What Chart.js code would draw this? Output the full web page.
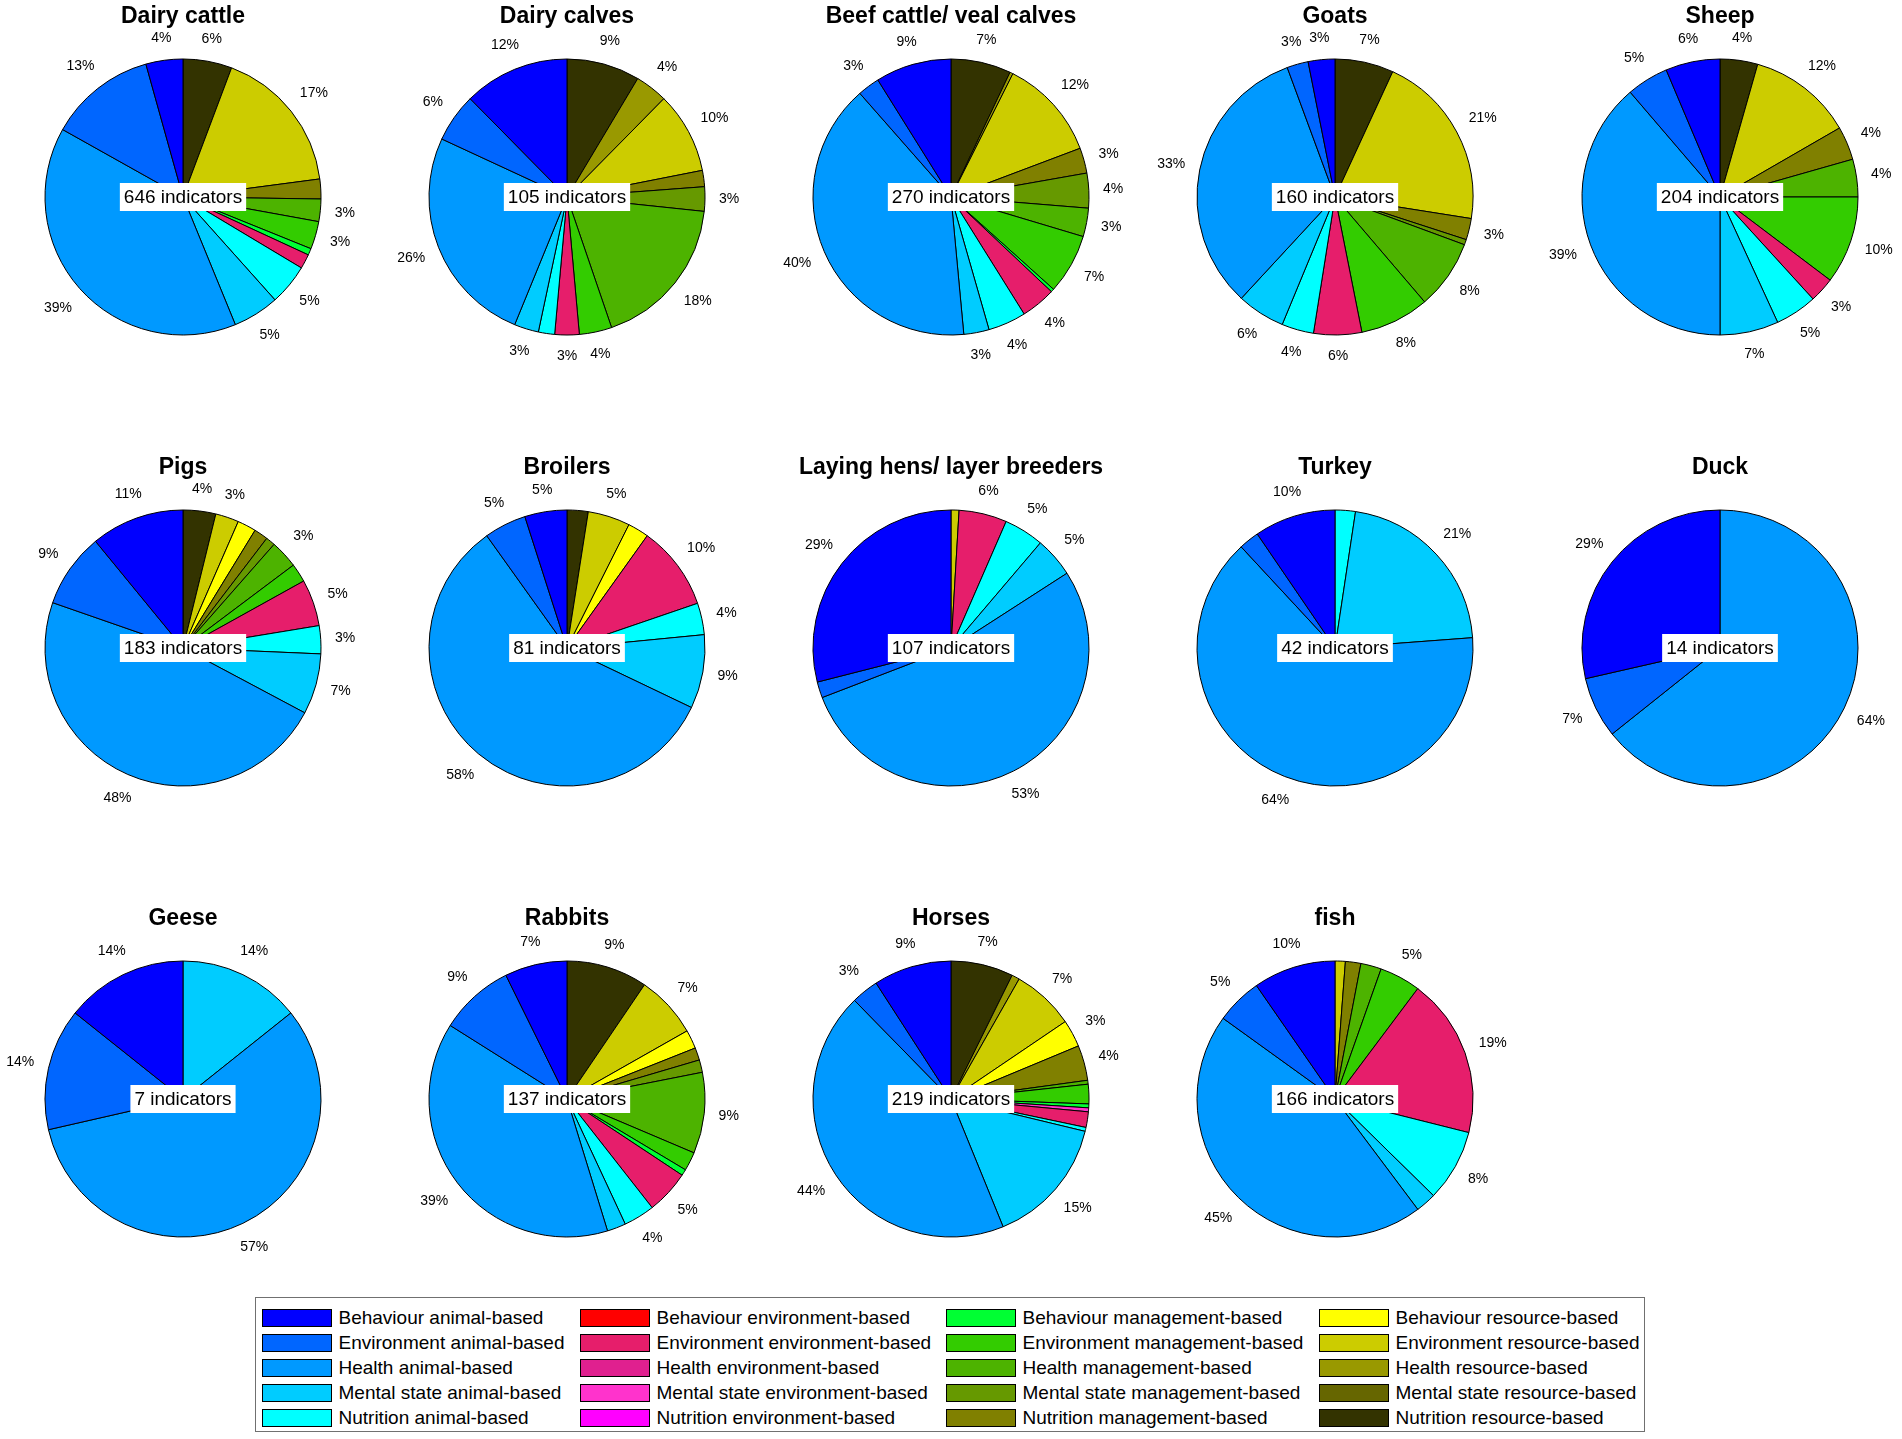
<!DOCTYPE html>
<html>
<head>
<meta charset="utf-8">
<script src="https://cdn.jsdelivr.net/npm/chart.js@4.4.1/dist/chart.umd.min.js"></script>
<style>
  body { margin: 0; background: #fff; width: 1902px; height: 1439px; position: relative; overflow: hidden;
         font-family: "Liberation Sans", Arial, sans-serif; }
  canvas { position: absolute; }
  #legend { position: absolute; left: 255px; top: 1297px; width: 1390px; height: 135px;
            border: 1.5px solid #707070; box-sizing: border-box; }
  .sw { position: absolute; width: 68px; height: 16px; border: 1px solid #000; }
  .lt { position: absolute; font-size: 19px; line-height: 19px; color: #000; white-space: nowrap; }
</style>
</head>
<body>
<div id="legend"></div>
<script>
// indicator categories, in the order the pies are stacked
const categories = [
    "Behaviour animal-based", "Environment animal-based", "Health animal-based", "Mental state animal-based", "Nutrition animal-based",
    "Behaviour environment-based", "Environment environment-based", "Health environment-based", "Mental state environment-based", "Nutrition environment-based",
    "Behaviour management-based", "Environment management-based", "Health management-based", "Mental state management-based", "Nutrition management-based",
    "Behaviour resource-based", "Environment resource-based", "Health resource-based", "Mental state resource-based", "Nutrition resource-based"
];
const colours = [
    "#0000ff", "#0066ff", "#0099ff", "#00ccff", "#00ffff",
    "#ff0000", "#e61e6b", "#e0208f", "#ff33cc", "#ff00ff",
    "#00ff33", "#33cc00", "#4db300", "#669900", "#808000",
    "#ffff00", "#cccc00", "#999900", "#666600", "#333300"
];

const titles = ["Dairy cattle", "Dairy calves", "Beef cattle/ veal calves", "Goats", "Sheep",
    "Pigs", "Broilers", "Laying hens/ layer breeders", "Turkey", "Duck",
    "Geese", "Rabbits", "Horses", "fish"];

// number of indicators per category
const dairyCattle = [28, 81, 254, 35, 31, 0, 11, 0, 0, 0, 5, 21, 17, 0, 15, 0, 111, 0, 0, 37];
const dairyCalves = [13, 6, 27, 3, 2, 0, 3, 0, 0, 0, 0, 4, 19, 3, 2, 0, 10, 4, 0, 9];
const beefCattle  = [24, 7, 108, 8, 12, 0, 11, 0, 0, 0, 1, 19, 9, 11, 8, 0, 32, 1, 0, 19];
const goats       = [5, 4, 52, 9, 6, 0, 9, 0, 0, 0, 0, 13, 13, 1, 4, 0, 33, 0, 0, 11];
const sheep       = [13, 10, 79, 14, 10, 0, 6, 0, 0, 0, 0, 21, 9, 0, 8, 0, 25, 0, 0, 9];
const pigs        = [20, 16, 87, 13, 6, 0, 10, 0, 0, 0, 0, 4, 6, 2, 3, 4, 5, 0, 0, 7];
const broilers    = [4, 4, 47, 7, 3, 0, 8, 0, 0, 0, 0, 0, 0, 0, 0, 2, 4, 0, 0, 2];
const layingHens  = [31, 2, 57, 5, 5, 0, 6, 0, 0, 0, 0, 0, 0, 0, 0, 0, 1, 0, 0, 0];
const turkey      = [4, 1, 27, 9, 1, 0, 0, 0, 0, 0, 0, 0, 0, 0, 0, 0, 0, 0, 0, 0];
const duck        = [4, 1, 9, 0, 0, 0, 0, 0, 0, 0, 0, 0, 0, 0, 0, 0, 0, 0, 0, 0];
const geese       = [1, 1, 4, 1, 0, 0, 0, 0, 0, 0, 0, 0, 0, 0, 0, 0, 0, 0, 0, 0];
const rabbits     = [10, 12, 53, 3, 5, 0, 7, 0, 0, 0, 1, 3, 13, 2, 2, 3, 10, 0, 0, 13];
const horses      = [20, 7, 96, 33, 1, 0, 4, 0, 1, 0, 1, 5, 1, 0, 9, 7, 16, 2, 0, 16];
const fish        = [16, 9, 75, 4, 14, 0, 31, 0, 0, 0, 0, 8, 4, 0, 3, 0, 2, 0, 0, 0];

const species = [dairyCattle, dairyCalves, beefCattle, goats, sheep, pigs, broilers,
    layingHens, turkey, duck, geese, rabbits, horses, fish];

// layout
const colX = [182.5, 567, 951, 1335, 1719.5];
const rowY = [197, 648, 1099];
const cellW = 384, cellH = 420;
const fontFamily = '"Liberation Sans", Arial, sans-serif';

// percent labels round the pie plus the white "N indicators" box
const pieText = {
    id: 'pieText',
    afterDatasetsDraw(chart) {
        const ctx = chart.ctx;
        const meta = chart.getDatasetMeta(0);
        const values = chart.data.datasets[0].data;
        const total = values.reduce((a, b) => a + b, 0);
        const cx = meta.data[0].x, cy = meta.data[0].y, r = meta.data[0].outerRadius;
        ctx.save();
        ctx.textAlign = 'center';
        ctx.textBaseline = 'middle';
        ctx.fillStyle = '#000';
        ctx.font = '14px ' + fontFamily;
        meta.data.forEach(function (arc, i) {
            const pct = Math.round(values[i] * 100 / total);
            if (pct < 3) return;
            const mid = (arc.startAngle + arc.endAngle) / 2;
            const txt = pct + '%';
            const w = ctx.measureText(txt).width;
            const c = Math.cos(mid), s = Math.sin(mid);
            const d = r * 1.1 + Math.abs(c) * w / 2 + Math.abs(s) * 7;
            ctx.fillText(txt, cx + c * d, cy + s * d);
        });
        ctx.font = '19px ' + fontFamily;
        const label = total + ' indicators';
        const w = ctx.measureText(label).width;
        ctx.fillStyle = '#fff';
        ctx.fillRect(cx - w / 2 - 4, cy - 14, w + 8, 28);
        ctx.fillStyle = '#000';
        ctx.fillText(label, cx, cy + 1);
        ctx.restore();
    }
};

species.forEach(function (values, k) {
    const cx = colX[k % 5], cy = rowY[Math.floor(k / 5)];
    const canvas = document.createElement('canvas');
    canvas.width = cellW;
    canvas.height = cellH;
    canvas.style.left = (cx - cellW / 2) + 'px';
    canvas.style.top = (cy - 200) + 'px';
    document.body.appendChild(canvas);

    // MATLAB-style pies run anticlockwise, Chart.js clockwise: reverse the order
    new Chart(canvas, {
        type: 'pie',
        data: {
            labels: categories.slice().reverse(),
            datasets: [{
                data: values.slice().reverse(),
                backgroundColor: colours.slice().reverse(),
                borderColor: '#000',
                borderWidth: 1
            }]
        },
        options: {
            responsive: false,
            animation: false,
            radius: 138,
            layout: { padding: { bottom: 63.6 } },
            plugins: {
                legend: { display: false },
                tooltip: { enabled: false },
                title: {
                    display: true,
                    text: titles[k],
                    color: '#000',
                    font: { size: 23, weight: 'bold', family: fontFamily },
                    padding: { top: 6, bottom: 10 }
                }
            }
        },
        plugins: [pieText]
    });
});

// legend, four columns of five
const legend = document.getElementById('legend');
const swatchX = [262, 580, 946, 1319];
const boxTop = 1297;
categories.forEach(function (name, i) {
    const col = Math.floor(i / 5), row = i % 5;
    const y = 1316.7 + row * 25 - boxTop;
    const sw = document.createElement('div');
    sw.className = 'sw';
    sw.style.background = colours[i];
    sw.style.left = (swatchX[col] - 256.5) + 'px';
    sw.style.top = (y - 9) + 'px';
    legend.appendChild(sw);
    const lt = document.createElement('div');
    lt.className = 'lt';
    lt.textContent = name;
    lt.style.left = (swatchX[col] + 77 - 256.5) + 'px';
    lt.style.top = (y - 10) + 'px';
    legend.appendChild(lt);
});
</script>
</body>
</html>
